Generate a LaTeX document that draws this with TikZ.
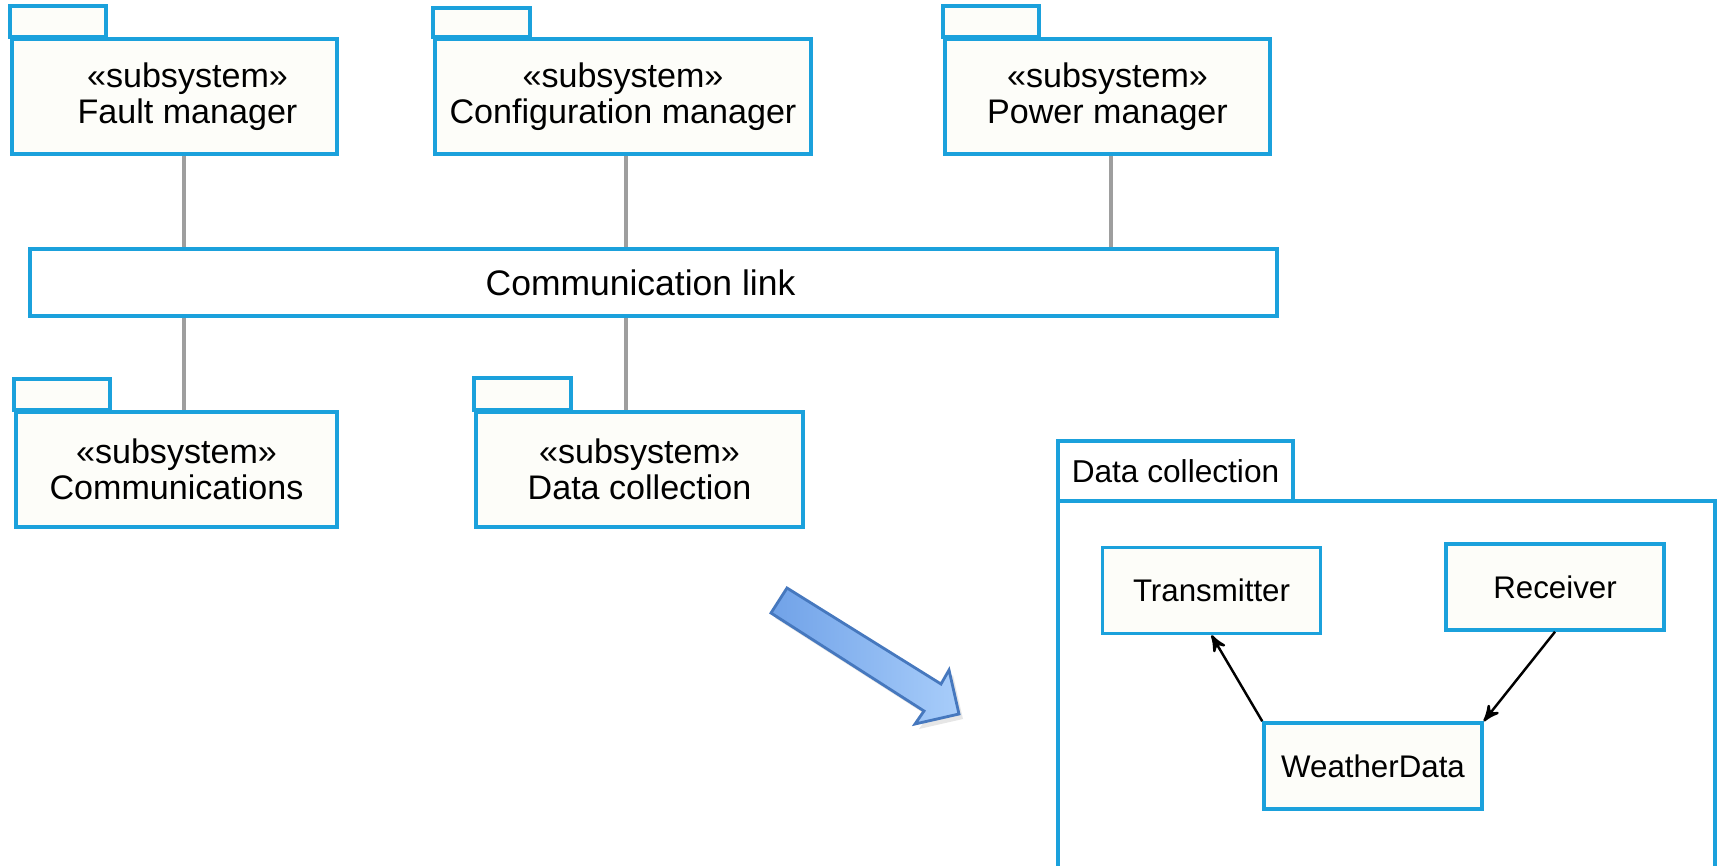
\documentclass[tikz,border=0pt]{standalone}
\usepackage{fontspec}
\setmainfont{Liberation Sans}
\usetikzlibrary{arrows,shadows}
\definecolor{pkgblue}{RGB}{27,161,220}
\definecolor{pkgfill}{RGB}{253,253,249}
\definecolor{wiregray}{RGB}{158,158,158}
\definecolor{arrowedge}{RGB}{70,120,190}
\definecolor{arrowdark}{RGB}{112,162,232}
\definecolor{arrowlight}{RGB}{168,205,250}

\tikzset{
  pkg/.style={draw=pkgblue,fill=pkgfill,line width=1pt,align=center,inner sep=0pt,
    minimum height=1.15cm,font=\fontsize{9.7}{10.4}\selectfont},
  pkgtab/.style={draw=pkgblue,fill=pkgfill,line width=1pt},
  wire/.style={draw=wiregray,line width=1pt},
  cls/.style={draw=pkgblue,fill=pkgfill,line width=1pt,inner sep=0pt,
    minimum width=2.18cm,minimum height=0.86cm,font=\fontsize{8.9}{10}\selectfont},
  bigarrow/.style={draw=arrowedge,line width=0.8pt,left color=arrowdark,right color=arrowlight,
    drop shadow={opacity=0.2,shadow xshift=0.04cm,shadow yshift=-0.05cm}}
}

\begin{document}
\begin{tikzpicture}[scale=1]
\useasboundingbox (0,0) rectangle (17.17,-8.66);

\node[pkg,minimum width=3.25cm] (fault) at (1.745,-0.965) {\hspace{0.26cm}«subsystem»\\\hspace{0.26cm}Fault manager};
\draw[pkgtab] (fault.north west) rectangle ++(0.96,0.31);
\node[pkg,minimum width=3.76cm] (config) at (6.23,-0.965) {«subsystem»\\Configuration manager};
\draw[pkgtab] (config.north west) rectangle ++(0.97,0.29);
\node[pkg,minimum width=3.25cm] (power) at (11.075,-0.965) {«subsystem»\\Power manager};
\draw[pkgtab] (power.north west) rectangle ++(0.96,0.31);

\node[draw=pkgblue,fill=white,line width=1pt,minimum width=12.47cm,minimum height=0.67cm,
  font=\fontsize{10.1}{11}\selectfont] (link) at (6.535,-2.825) {Communication link\kern0.26cm};

\node[pkg,minimum width=3.21cm] (comms) at (1.765,-4.695) {«subsystem»\\Communications};
\draw[pkgtab] (comms.north west) rectangle ++(0.96,0.31);
\node[pkg,minimum width=3.27cm] (datacol) at (6.395,-4.695) {«subsystem»\\Data collection};
\draw[pkgtab] (datacol.north west) rectangle ++(0.97,0.32);

\draw[wire] ([xshift=0.095cm]fault.south) -- ([xshift=0.095cm]fault.south |- link.north);
\draw[wire] ([xshift=0.03cm]config.south) -- ([xshift=0.03cm]config.south |- link.north);
\draw[wire] ([xshift=0.035cm]power.south) -- ([xshift=0.035cm]power.south |- link.north);
\draw[wire] ([xshift=0.075cm]comms.north) -- ([xshift=0.075cm]comms.north |- link.south);
\draw[wire] ([xshift=-0.135cm]datacol.north) -- ([xshift=-0.135cm]datacol.north |- link.south);

\draw[bigarrow] (7.87,-5.88) -- (9.41,-6.84) -- (9.49,-6.70) -- (9.59,-7.14)
  -- (9.15,-7.24) -- (9.24,-7.11) -- (7.71,-6.13) -- cycle;

\draw[pkgtab,fill=white] (10.58,-5.01) rectangle (17.15,-8.72);
\node[pkgtab,fill=white,minimum width=2.35cm,minimum height=0.6cm,inner sep=0pt,
  font=\fontsize{9}{10}\selectfont] (frame) at (11.755,-4.71) {Data collection};

\node[cls] (trans) at (12.115,-5.905) {Transmitter};
\node[cls] (recv) at (15.55,-5.87) {Receiver};
\node[cls] (weather) at (13.73,-7.66) {WeatherData};
\draw[-stealth',line width=0.7pt] (weather.north west) -- (trans.south);
\draw[-stealth',line width=0.7pt] (recv.south) -- (weather.north east);
\end{tikzpicture}
\end{document}
